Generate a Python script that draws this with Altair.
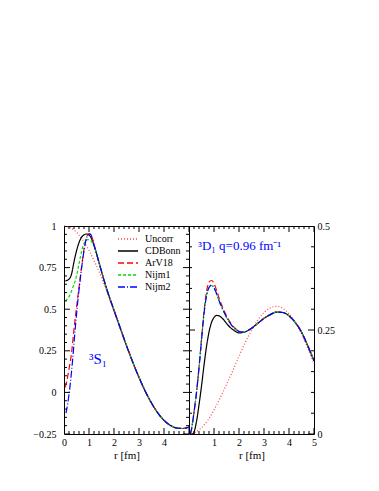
import altair as alt
import pandas as pd

FONT = "Liberation Serif"
W, H = 125, 208

models = ["Uncorr", "CDBonn", "ArV18", "Nijm1", "Nijm2"]
colors = ["#ff4040", "#000000", "#ff0000", "#00dd00", "#0000ff"]
dashes = [[1, 2], [1, 0], [6, 3], [3, 2], [7, 2, 1, 2]]

# ---------- 3S1 panel ----------
r_grid = [0, 0.25, 0.5, 0.75, 1, 1.25, 1.5, 1.75, 2, 2.25, 2.5, 2.75, 3,
          3.25, 3.5, 3.75, 4, 4.25, 4.5, 4.75, 5]
s_uncorr = [1.0, 0.990, 0.962, 0.916, 0.853, 0.777, 0.689, 0.592, 0.489, 0.385,
            0.281, 0.182, 0.090, 0.007, -0.064, -0.123, -0.168, -0.198, -0.214,
            -0.217, -0.208]
s_tail_r = [1.3, 1.4, 1.5, 1.6, 1.75, 2.0, 2.25, 2.5, 2.75, 3, 3.25, 3.5, 3.75,
            4, 4.25, 4.5, 4.75, 5]
s_tail = [0.835, 0.780, 0.727, 0.675, 0.602, 0.494, 0.387, 0.281, 0.182, 0.090,
          0.007, -0.064, -0.123, -0.168, -0.198, -0.214, -0.217, -0.208]
s_cdbonn_r = [0.05, 0.15, 0.25, 0.3, 0.4, 0.5, 0.6, 0.7, 0.8, 0.9, 1.0, 1.1, 1.2]
s_cdbonn = [0.670, 0.675, 0.690, 0.710, 0.785, 0.850, 0.900, 0.932, 0.947, 0.952,
            0.946, 0.925, 0.882]
s_nijm1_r = [0.05, 0.15, 0.25, 0.35, 0.45, 0.55, 0.65, 0.75, 0.85, 0.95, 1.05, 1.15, 1.2]
s_nijm1 = [0.550, 0.565, 0.590, 0.630, 0.670, 0.735, 0.810, 0.875, 0.908, 0.918,
           0.915, 0.895, 0.882]
s_arv18_r = [0.05, 0.1, 0.2, 0.3, 0.4, 0.5, 0.6, 0.7, 0.8, 0.9, 1.0, 1.1, 1.2]
s_arv18 = [0.030, 0.060, 0.140, 0.235, 0.380, 0.510, 0.630, 0.750, 0.860, 0.930,
           0.955, 0.940, 0.888]
s_nijm2_r = [0.08, 0.15, 0.25, 0.35, 0.45, 0.55, 0.65, 0.75, 0.85, 0.95, 1.05, 1.15, 1.2]
s_nijm2 = [-0.125, -0.065, 0.050, 0.205, 0.385, 0.545, 0.680, 0.800, 0.895, 0.945,
           0.952, 0.918, 0.888]

# ---------- 3D1 panel ----------
d_uncorr = [0.0, 0.004, 0.015, 0.033, 0.058, 0.087, 0.119, 0.152, 0.187, 0.220,
            0.249, 0.274, 0.292, 0.303, 0.307, 0.302, 0.289, 0.269, 0.241, 0.207,
            0.169]
d_tail_r = [2.3, 2.5, 2.75, 3, 3.25, 3.5, 3.75, 4, 4.25, 4.5, 4.75, 5]
d_tail = [0.247, 0.254, 0.266, 0.278, 0.287, 0.293, 0.292, 0.284, 0.268, 0.245,
          0.212, 0.176]
d_head_r = [0.05, 0.1, 0.2, 0.3, 0.4, 0.5, 0.6, 0.7, 0.8, 0.9, 1.0, 1.1, 1.2,
            1.35, 1.5, 1.7, 1.9, 2.1]
d_arv18 = [0.0, 0.012, 0.053, 0.100, 0.160, 0.228, 0.295, 0.342, 0.365, 0.369,
           0.362, 0.346, 0.327, 0.304, 0.284, 0.264, 0.251, 0.245]
d_nijm1 = [0.0, 0.012, 0.053, 0.100, 0.160, 0.226, 0.290, 0.333, 0.352, 0.357,
           0.351, 0.337, 0.320, 0.299, 0.280, 0.262, 0.250, 0.245]
d_nijm2 = [0.0, 0.011, 0.052, 0.099, 0.159, 0.225, 0.289, 0.332, 0.352, 0.358,
           0.352, 0.338, 0.321, 0.300, 0.281, 0.262, 0.250, 0.245]
d_cdbonn_r = [0.18, 0.25, 0.3, 0.4, 0.5, 0.6, 0.7, 0.8, 0.9, 1.0, 1.1, 1.2, 1.35,
              1.5, 1.65, 1.8, 2.0, 2.15]
d_cdbonn = [0.0, 0.015, 0.030, 0.070, 0.115, 0.165, 0.210, 0.245, 0.268, 0.280,
            0.285, 0.284, 0.277, 0.266, 0.256, 0.249, 0.243, 0.244]

# axis tick / label values
x_ticks = [round(0.2 * i, 1) for i in range(26)]
s_yticks = [round(-0.25 + 0.05 * i, 2) for i in range(26)]
d_yticks = [round(0.05 * i, 2) for i in range(11)]
s_xlabels = [0, 1, 2, 3, 4]
d_xlabels = [1, 2, 3, 4, 5]
s_ylabels = [-0.25, 0, 0.25, 0.5, 0.75, 1]
d_ylabels = [0, 0.25, 0.5]


def series(model, rs, vs):
    return pd.DataFrame({"model": model, "r": rs, "v": vs})


df_s = pd.concat([
    series("Uncorr", r_grid, s_uncorr),
    series("CDBonn", s_cdbonn_r + s_tail_r, s_cdbonn + s_tail),
    series("ArV18", s_arv18_r + s_tail_r, s_arv18 + s_tail),
    series("Nijm1", s_nijm1_r + s_tail_r, s_nijm1 + s_tail),
    series("Nijm2", s_nijm2_r + s_tail_r, s_nijm2 + s_tail),
], ignore_index=True)

df_d = pd.concat([
    series("Uncorr", r_grid, d_uncorr),
    series("CDBonn", d_cdbonn_r + d_tail_r, d_cdbonn + d_tail),
    series("ArV18", d_head_r + d_tail_r, d_arv18 + d_tail),
    series("Nijm1", d_head_r + d_tail_r, d_nijm1 + d_tail),
    series("Nijm2", d_head_r + d_tail_r, d_nijm2 + d_tail),
], ignore_index=True)


def tick_df(values, major_every):
    # tick length: major ticks longer (centred on the frame edge, clipped -> inward half)
    lens = [12 if abs(v / major_every - round(v / major_every)) < 1e-6 else 6 for v in values]
    return pd.DataFrame({"t": values, "len": lens})


xt_df = tick_df(x_ticks, 1.0)
st_df = tick_df(s_yticks, 0.25)
dt_df = tick_df(d_yticks, 0.25)

LABEL_EXPR = "datum.value < 0 ? '\u2212' + (-datum.value) : '' + datum.value"

COMMON = dict(grid=False, labelFont=FONT, labelFontSize=10, labelColor="black",
              titleFont=FONT, titleFontSize=11, titleFontWeight="normal", titleColor="black")


def make_panel(df, ydom, xlabels, ylabels, yorient, ylabpad, yt_df, legend, note, note_r, note_v, note_size):
    xs = alt.Scale(domain=[0, 5], nice=False, zero=False)
    ys = alt.Scale(domain=ydom, nice=False, zero=False)
    color = alt.Color("model:N", scale=alt.Scale(domain=models, range=colors), legend=legend, sort=models)
    dash = alt.StrokeDash("model:N", scale=alt.Scale(domain=models, range=dashes), legend=legend, sort=models)
    lines = alt.Chart(df).mark_line(strokeWidth=1.2, interpolate="monotone").encode(
        x=alt.X("r:Q", scale=xs, axis=alt.Axis(values=xlabels, labelExpr=LABEL_EXPR, title="r [fm]",
                                               ticks=False, domain=False, labelPadding=3,
                                               labelFlush=False, labelOverlap=False, titlePadding=2,
                                               orient="bottom", **COMMON)),
        y=alt.Y("v:Q", scale=ys, axis=alt.Axis(values=ylabels, labelExpr=LABEL_EXPR, title=None,
                                               orient=yorient, ticks=False, domain=False,
                                               labelPadding=ylabpad, labelFlush=False,
                                               labelOverlap=False, **COMMON)),
        color=color,
        strokeDash=dash,
    )
    layers = [lines]
    for ypix in (0, H):
        layers.append(alt.Chart(xt_df).mark_tick(clip=True, thickness=1, color="black",
                                                 orient="vertical", opacity=1).encode(
            x=alt.X("t:Q", scale=xs, axis=None),
            y=alt.value(ypix),
            size=alt.Size("len:Q", scale=None, legend=None),
        ))
    for xpix in (0, W):
        layers.append(alt.Chart(yt_df).mark_tick(clip=True, thickness=1, color="black",
                                                 orient="horizontal", opacity=1).encode(
            y=alt.Y("t:Q", scale=ys, axis=None),
            x=alt.value(xpix),
            size=alt.Size("len:Q", scale=None, legend=None),
        ))
    note_df = pd.DataFrame({"t": [note], "r": [note_r], "v": [note_v]})
    layers.append(alt.Chart(note_df).mark_text(align="left", baseline="alphabetic", font=FONT,
                                                fontSize=note_size, color="#0000ff").encode(
        x=alt.X("r:Q", scale=xs, axis=None),
        y=alt.Y("v:Q", scale=ys, axis=None),
        text="t:N",
    ))
    return alt.layer(*layers).resolve_axis(x="independent", y="independent").properties(
        width=W, height=H)


leg = alt.Legend(title=None, orient="none", legendX=58, legendY=7, symbolType="M-2,0L2,0",
                 symbolSize=100, symbolStrokeWidth=1.3, labelFont=FONT, labelFontSize=10,
                 labelOffset=11, rowPadding=1, padding=0, labelColor="black",
                 symbolFillColor="transparent")

left = make_panel(df_s, [-0.25, 1], s_xlabels, s_ylabels, "left", 8, st_df, leg,
                  "³S₁", 1.0, 0.17, 15)
right = make_panel(df_d, [0, 0.5], d_xlabels, d_ylabels, "right", 3, dt_df, None,
                   "³D₁ q=0.96 fm⁻¹", 0.36, 0.443, 13)

chart = alt.hconcat(left, right, spacing=0, bounds="flush").properties(
    padding={"left": 24, "top": 212, "right": 5, "bottom": 5}
).configure(font=FONT).configure_view(stroke="black", strokeWidth=1).configure_axis(
    grid=False, labelFont=FONT, titleFont=FONT, labelFontSize=10, titleFontSize=11,
    titleFontWeight="normal", labelColor="black", titleColor="black", tickColor="black"
)

chart.save("out.html", embed_options={"renderer": "svg", "actions": False})
